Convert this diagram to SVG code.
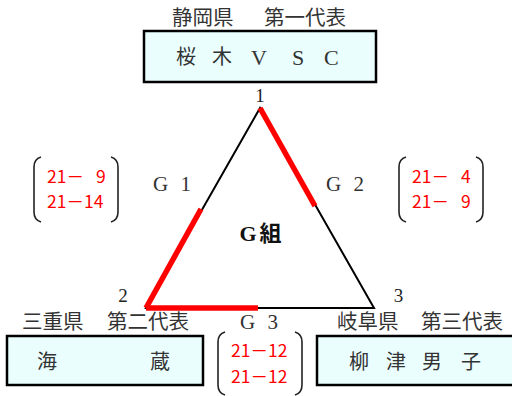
<svg xmlns="http://www.w3.org/2000/svg" width="512" height="396" viewBox="0 0 512 396">
<style>
.box{fill:#EAFEFE;stroke:#000;stroke-width:2.5}
.lbl{font-family:"Noto Sans CJK JP","Liberation Serif",sans-serif;font-size:20.5px;fill:#333}
.name{font-family:"Noto Sans CJK JP","Liberation Serif",sans-serif;font-size:20px;fill:#333}
.lat{font-family:"Liberation Serif","Noto Sans CJK JP",serif;font-size:22px;fill:#333}
.num{font-family:"Liberation Serif",serif;font-size:19px;fill:#222;text-anchor:middle}
.g{font-family:"Liberation Serif",serif;font-size:21px;fill:#333;word-spacing:7px}
.sc{font-family:"Noto Sans CJK JP","Liberation Sans",sans-serif;font-size:17.5px;fill:#FF0000}
.br{fill:none;stroke:#222;stroke-width:1.6}
.blk{stroke:#000;stroke-width:2;fill:none}
.red{stroke:#FF0000;stroke-width:5.5;fill:none}
</style>
<rect width="512" height="396" fill="#fff"/>
<g id="connectors">
<polygon class="blk" points="260,108 146,308 374,308"/>
<line class="red" x1="260" y1="108" x2="315" y2="206"/>
<line class="red" x1="146" y1="308" x2="201" y2="209"/>
<line class="red" x1="146" y1="308" x2="258" y2="308"/>
</g>
<g id="node1">
<text class="lbl" y="25"><tspan x="172">静岡県</tspan>　<tspan x="264">第一代表</tspan></text>
<rect class="box" x="144" y="31" width="232" height="51"/>
<text class="name" y="64"><tspan x="176">桜</tspan> <tspan x="212">木</tspan> <tspan class="lat" x="251" y="65">V</tspan> <tspan class="lat" x="292" y="65">S</tspan> <tspan class="lat" x="324" y="65">C</tspan></text>
<text class="num" x="260" y="102">1</text>
</g>
<g id="node2">
<text class="num" x="123" y="302">2</text>
<text class="lbl" y="329"><tspan x="22">三重県</tspan>　<tspan x="107">第二代表</tspan></text>
<rect class="box" x="7" y="336" width="196" height="49"/>
<text class="name" y="369"><tspan x="37">海</tspan> <tspan x="150">蔵</tspan></text>
</g>
<g id="node3">
<text class="num" x="398.5" y="302">3</text>
<text class="lbl" y="329"><tspan x="337">岐阜県</tspan>　<tspan x="421">第三代表</tspan></text>
<rect class="box" x="317" y="336" width="200" height="49"/>
<text class="name" y="369"><tspan x="349">柳</tspan> <tspan x="386">津</tspan> <tspan x="422">男</tspan> <tspan x="461">子</tspan></text>
</g>
<g id="group-title">
<text x="262" y="241" text-anchor="middle" font-family="Liberation Serif, Noto Sans CJK JP, serif" font-size="22" font-weight="bold" fill="#111" letter-spacing="3">G組</text>
</g>
<g id="match-g1">
<text class="g" x="153" y="191">G 1</text>
<path class="br" d="M41,157 Q34,159 34,167 L34,212 Q34,220 41,222"/>
<path class="br" d="M111,157 Q118,159 118,167 L118,212 Q118,220 111,222"/>
<text class="sc" x="47" y="183">21－ <tspan x="96">9</tspan></text>
<text class="sc" x="47" y="208">21－14</text>
</g>
<g id="match-g2">
<text class="g" x="326" y="191">G 2</text>
<path class="br" d="M406,157 Q399,159 399,167 L399,212 Q399,220 406,222"/>
<path class="br" d="M476,157 Q483,159 483,167 L483,212 Q483,220 476,222"/>
<text class="sc" x="412" y="183">21－ <tspan x="461">4</tspan></text>
<text class="sc" x="412" y="208">21－ <tspan x="461">9</tspan></text>
</g>
<g id="match-g3">
<text class="g" x="240" y="329">G 3</text>
<path class="br" d="M225,332 Q218,334 218,342 L218,385 Q218,393 225,395"/>
<path class="br" d="M295,332 Q302,334 302,342 L302,385 Q302,393 295,395"/>
<text class="sc" x="231" y="357">21－12</text>
<text class="sc" x="231" y="383">21－12</text>
</g>
</svg>
